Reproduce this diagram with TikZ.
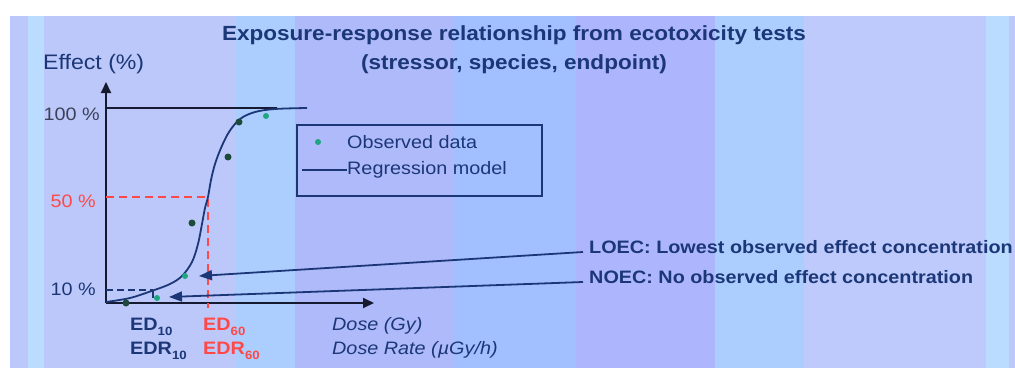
\documentclass[tikz,border=0pt]{standalone}
\usepackage{fontspec}
\setmainfont{Liberation Sans}[FakeStretch=1.1]
\usetikzlibrary{arrows.meta}
\definecolor{navy}{HTML}{1C3778}
\definecolor{axiscol}{HTML}{161A30}
\definecolor{graytxt}{HTML}{3C4158}
\definecolor{redc}{HTML}{FF4848}
\definecolor{lav}{HTML}{BCC8FA}
\definecolor{lblue}{HTML}{BADCFF}
\definecolor{midlav}{HTML}{AEBAFA}
\definecolor{bluer}{HTML}{A2BFFF}
\definecolor{purlav}{HTML}{ADB6FC}
\definecolor{lblue2}{HTML}{ABCEFF}
\definecolor{lav2}{HTML}{BECAFC}
\definecolor{dotg}{HTML}{1FA57F}
\definecolor{dotd}{HTML}{1E4A3C}
\tikzset{
  txt/.style={inner sep=0pt, font=\fontsize{18}{20}\selectfont},
  obs/.style={circle, fill=dotg, inner sep=0pt, minimum size=6pt},
  obsd/.style={circle, fill=dotd, inner sep=0pt, minimum size=7pt},
  axis/.style={draw=axiscol, line width=2pt, -{Triangle[length=11pt,width=10pt]}},
  arr/.style={draw=navy, line width=1.8pt, -{Triangle[length=13pt,width=10pt]}},
  reddash/.style={draw=redc, line width=1.6pt, dash pattern=on 8pt off 5pt},
}
\begin{document}
\begin{tikzpicture}[x=1pt,y=-1pt]
\useasboundingbox (0,0) rectangle (1015,369);
% background stripes
\fill[white] (0,0) rectangle (1015,369);
\fill[lav] (10,16) rectangle (1015,368);
\fill[lblue] (28,16) rectangle (44,368);
\fill[lblue2] (235,16) rectangle (295,368);
\fill[midlav] (295,16) rectangle (454,368);
\fill[bluer] (454,16) rectangle (576,368);
\fill[purlav] (576,16) rectangle (715,368);
\fill[lblue2] (715,16) rectangle (804,368);
\fill[lav2] (804,16) rectangle (986,368);
\fill[lblue] (986,16) rectangle (1009,368);

% title
\node[txt, font=\fontsize{20.5}{22}\selectfont\bfseries, text=navy, anchor=base] (t1) at (514,41) {Exposure-response relationship from ecotoxicity tests};
\node[txt, font=\fontsize{20.5}{22}\selectfont\bfseries, text=navy, anchor=base] (t2) at (514,70) {(stressor, species, endpoint)};
\node[txt, font=\fontsize{21}{22}\selectfont, text=navy, anchor=base west] (eff) at (43,70) {Effect (\%)};

% axes
\coordinate (o) at (106,303);
\coordinate (ytip) at (106,82);
\coordinate (xtip) at (374,303);
\draw[axis] (o) -- (ytip);
\draw[axis] (o) -- (xtip);

% 100% line
\coordinate (h0) at (106,108);
\coordinate (h1) at (277,108);
\draw[axiscol, line width=1.5pt] (h0) -- (h1);

% y labels
\node[txt, text=graytxt, anchor=base east] (l100) at (100,120) {100 \%};
\node[txt, text=redc, anchor=base east] (l50) at (96,207) {50 \%};
\node[txt, text=navy, anchor=base east] (l10) at (96,295) {10 \%};

% dashed guides
\coordinate (r0) at (106,197);
\coordinate (r1) at (208,197);
\coordinate (r2) at (208,308);
\draw[reddash] (r0) -- (r1) -- (r2);
\coordinate (b0) at (106,290);
\coordinate (b1) at (153,290);
\coordinate (b2) at (153,298);
\draw[navy, line width=1.5pt, dash pattern=on 7pt off 4pt] (b0) -- (b1);
\draw[navy, line width=1.5pt] (b1) -- (b2);

% regression curve
\draw[navy, line width=1.8pt] plot[smooth, tension=0.55] coordinates {
(106,302) (130,298) (153,290.5) (170,284) (182,276) (192,262) (198,244) (202,224)
(205,208) (208,197) (211,180) (215,164) (221,148) (229,132) (240,119) (255,112) (275,109) (307,108)};

% observed data
\node[obsd] (d1) at (126,303) {};
\node[obs] (d2) at (157,298) {};
\node[obs] (d3) at (185,276) {};
\node[obsd] (d4) at (192,223) {};
\node[obsd] (d5) at (228,157) {};
\node[obsd] (d6) at (239,122) {};
\node[obs] (d7) at (266,116) {};

% legend
\node[draw=navy, line width=1.8pt, minimum width=245pt, minimum height=71pt, anchor=north west, inner sep=0pt] (leg) at (296,124) {};
\node[obs] (ld) at (318,142) {};
\node[txt, text=navy, anchor=west] (lobs) at (347,142) {Observed data};
\coordinate (ll0) at (302,170);
\node[txt, text=navy, anchor=west] (lreg) at (347,170) {Regression model};
\draw[navy, line width=1.5pt] (ll0) -- (lreg.west);

% x labels
\node[txt, text=navy, anchor=base west, font=\fontsize{18}{20}\selectfont\bfseries] (ed10) at (130,330) {ED\raisebox{-5pt}{\fontsize{12}{12}\selectfont 10}};
\node[txt, text=navy, anchor=base west, font=\fontsize{18}{20}\selectfont\bfseries] (edr10) at (130,354) {EDR\raisebox{-5pt}{\fontsize{12}{12}\selectfont 10}};
\node[txt, text=redc, anchor=base west, font=\fontsize{18}{20}\selectfont\bfseries] (ed60) at (203,330) {ED\raisebox{-5pt}{\fontsize{12}{12}\selectfont 60}};
\node[txt, text=redc, anchor=base west, font=\fontsize{18}{20}\selectfont\bfseries] (edr60) at (203,354) {EDR\raisebox{-5pt}{\fontsize{12}{12}\selectfont 60}};
\node[txt, text=navy, anchor=base west, font=\fontsize{18}{20}\selectfont\itshape] (dose) at (332,330) {Dose (Gy)};
\node[txt, text=navy, anchor=base west, font=\fontsize{18}{20}\selectfont\itshape] (doser) at (332,354) {Dose Rate (µGy/h)};

% LOEC / NOEC
\node[txt, text=navy, anchor=base west, font=\fontsize{18}{20}\selectfont\bfseries] (loec) at (589,253) {LOEC: Lowest observed effect concentration};
\node[txt, text=navy, anchor=base west, font=\fontsize{18}{20}\selectfont\bfseries] (noec) at (589,283) {NOEC: No observed effect concentration};
\coordinate (lotip) at (199,276);
\coordinate (notip) at (169,297);
\draw[arr] ([shift={(-6,-1)}]loec.base west) -- (lotip);
\draw[arr] ([shift={(-6,-1)}]noec.base west) -- (notip);
\end{tikzpicture}
\end{document}
